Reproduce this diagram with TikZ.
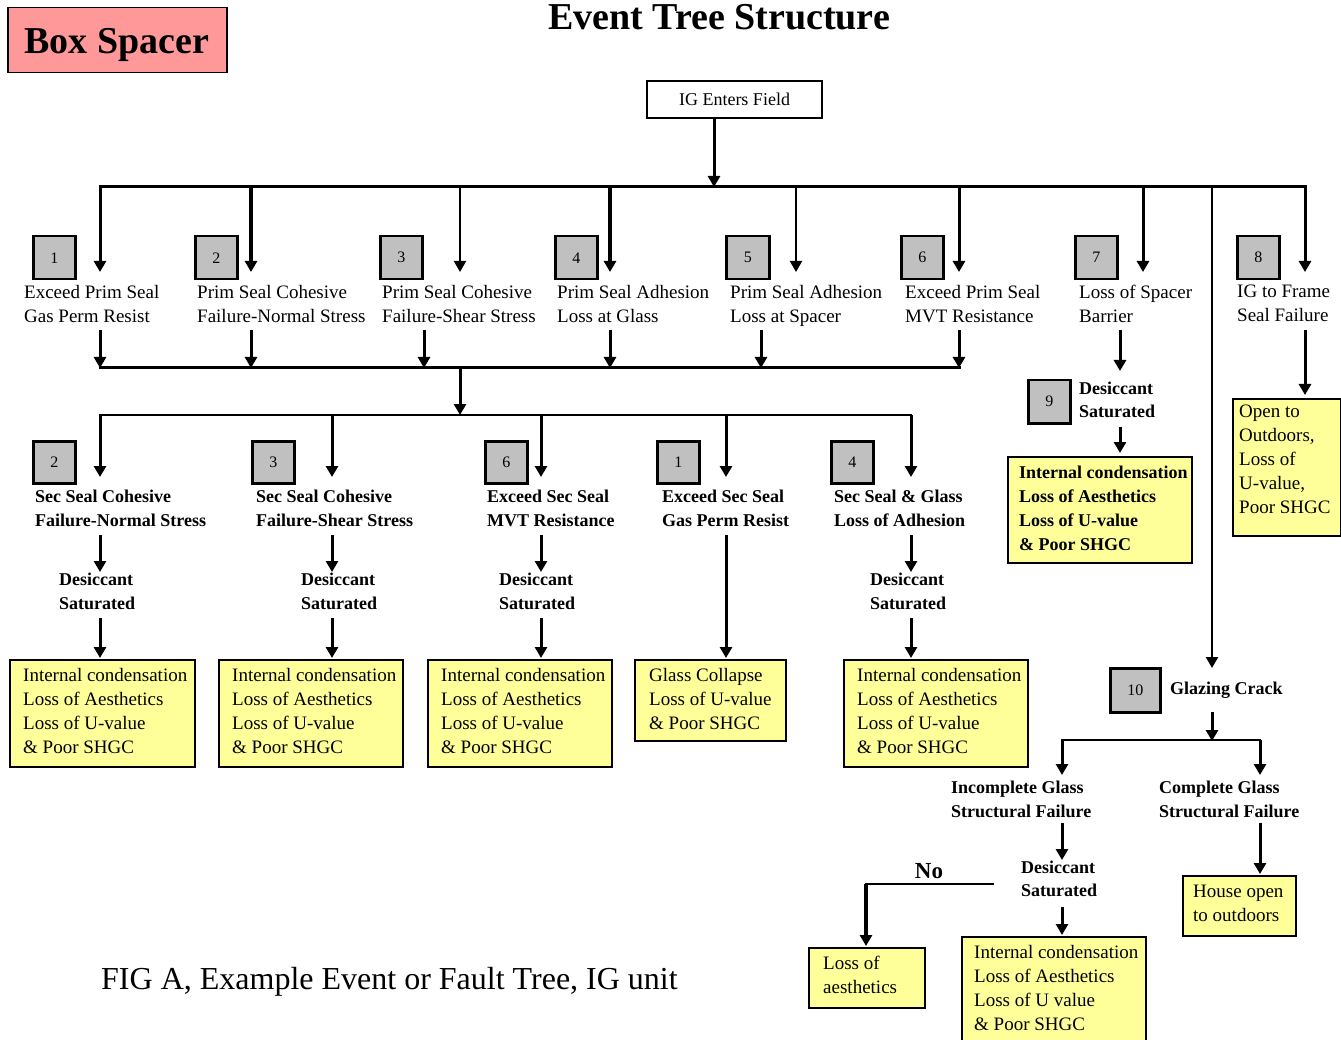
\documentclass[tikz,border=0pt]{standalone}
\usepackage{fontspec}
\setmainfont{Liberation Serif}
\usetikzlibrary{arrows.meta,calc}
\definecolor{padfill}{HTML}{FF9999}
\definecolor{numgray}{HTML}{C0C0C0}
\definecolor{outcome}{HTML}{FFFF99}

\tikzset{
  wire/.style={line width=3pt,line cap=rect},
  wirethin/.style={line width=2pt,line cap=rect},
  flow/.style={line width=3pt,-{Triangle[width=12pt,length=11pt]}},
  flowthin/.style={line width=2pt,-{Triangle[width=12pt,length=11pt]}},
  numbox/.style={draw,line width=2.5pt,fill=numgray,inner sep=0,anchor=north west,
    minimum width=42pt,minimum height=43pt,font=\fontsize{16}{16}\selectfont},
  outbox/.style={draw,line width=2pt,fill=outcome,inner sep=0,anchor=north west},
  lbl/.style={inner sep=0,anchor=north west,align=left,font=\fontsize{19}{24}\selectfont},
  lblb/.style={inner sep=0,anchor=north west,align=left,font=\fontsize{18}{24}\selectfont\bfseries},
  lblbt/.style={inner sep=0,anchor=north west,align=left,font=\fontsize{18}{23}\selectfont\bfseries},
}

\begin{document}
\begin{tikzpicture}[x=1pt,y=-1pt]
\fill[white] (0,0) rectangle (1341,1040);
\useasboundingbox (0,0) rectangle (1341,1040);

% ---------- heading ----------
\node[draw,line width=1.5pt,fill=padfill,minimum width=219pt,minimum height=65pt,anchor=north west] (pad) at (7,7) {};
\node[anchor=base,font=\fontsize{38}{38}\selectfont\bfseries,inner sep=0] (padtxt) at (117,54) {Box Spacer};
\node[anchor=base,font=\fontsize{38}{38}\selectfont\bfseries,inner sep=0] (title) at (719,30) {Event Tree Structure};

% ---------- root ----------
\node[draw,line width=2pt,minimum width=175pt,minimum height=37pt,anchor=north west,
      font=\fontsize{18}{18}\selectfont] (ig) at (646,80) {IG Enters Field};
\coordinate (igout) at (714,117);

% ---------- first tier ----------
\node[numbox] (n1) at (32,235) {1};
\node[numbox] (n2) at (194,235) {2};
\node[numbox] (n3) at (379,235) {3};
\node[numbox] (n4) at (554,235) {4};
\node[numbox,minimum width=43pt] (n5) at (725,235) {5};
\node[numbox] (n6) at (900,235) {6};
\node[numbox] (n7) at (1074,235) {7};
\node[numbox] (n8) at (1236,235) {8};

\node[lbl] (l1) at (24,285)   {Exceed Prim Seal\\Gas Perm Resist};
\node[lbl] (l2) at (197,285)  {Prim Seal Cohesive\\Failure-Normal Stress};
\node[lbl] (l3) at (382,285)  {Prim Seal Cohesive\\Failure-Shear Stress};
\node[lbl] (l4) at (557,285)  {Prim Seal Adhesion\\Loss at Glass};
\node[lbl] (l5) at (730,285)  {Prim Seal Adhesion\\Loss at Spacer};
\node[lbl] (l6) at (905,285)  {Exceed Prim Seal\\MVT Resistance};
\node[lbl] (l7) at (1079,285) {Loss of Spacer\\Barrier};
\node[lbl] (l8) at (1237,285) {IG to Frame\\Seal Failure};

% bus under the root
\coordinate (b1) at (100,187);
\coordinate (b2) at (251,187);
\coordinate (b3) at (460,187);
\coordinate (b4) at (610,187);
\coordinate (b5) at (796,187);
\coordinate (b6) at (959,187);
\coordinate (b7) at (1143,187);
\coordinate (b8) at (1305,187);
\coordinate (bg) at (1212,187);
\draw[wire] (b1) -- (b8);
\draw[flow] (igout) -- (igout |- b1);
\draw[flow] (b1) -- ++(0,85);
\draw[flow,line width=3.5pt] (b2) -- ++(0,85);
\draw[flowthin] (b3) -- ++(0,85);
\draw[flow,line width=3.5pt] (b4) -- ++(0,85);
\draw[flowthin] (b5) -- ++(0,85);
\draw[flow] (b6) -- ++(0,85);
\draw[flow] (b7) -- ++(0,85);
\draw[flow] (b8) -- ++(0,85);

% collector under the first tier
\coordinate (c1) at (100,368);
\coordinate (c6) at (959,368);
\coordinate (cmid) at (460,368);
\draw[wire] (c1) -- (c6);
\draw[flow] (100,330) -- (c1);
\draw[flow] (251,330) -- (251,368);
\draw[flow] (424,330) -- (424,368);
\draw[flow] (610,330) -- (610,368);
\draw[flow] (761,330) -- (761,368);
\draw[flow] (959,330) -- (c6);

% ---------- second tier ----------
\coordinate (e1) at (100,415);
\coordinate (e2) at (332,415);
\coordinate (e3) at (541,415);
\coordinate (e4) at (726,415);
\coordinate (e5) at (911,415);
\draw[flow] (cmid) -- (cmid |- e1);
\draw[wirethin] (e1) -- (e5);
\foreach \c in {e1,e2,e3,e4,e5} \draw[flow] (\c) -- ++(0,62);

\node[numbox,minimum height=42pt] (m2) at (32,440)  {2};
\node[numbox,minimum height=42pt] (m3) at (251,440) {3};
\node[numbox,minimum height=42pt] (m6) at (484,440) {6};
\node[numbox,minimum height=42pt] (m1) at (656,440) {1};
\node[numbox,minimum height=42pt] (m4) at (830,440) {4};

\node[lblb] (s2) at (35,490)  {Sec Seal Cohesive\\Failure-Normal Stress};
\node[lblb] (s3) at (256,490) {Sec Seal Cohesive\\Failure-Shear Stress};
\node[lblb] (s6) at (487,490) {Exceed Sec Seal\\MVT Resistance};
\node[lblb] (s1) at (662,490) {Exceed Sec Seal\\Gas Perm Resist};
\node[lblb] (s4) at (834,490) {Sec Seal \& Glass\\Loss of Adhesion};

\node[lblb] (d2) at (59,573)  {Desiccant\\Saturated};
\node[lblb] (d3) at (301,573) {Desiccant\\Saturated};
\node[lblb] (d6) at (499,573) {Desiccant\\Saturated};
\node[lblb] (d4) at (870,573) {Desiccant\\Saturated};

% outcomes of the second tier
\node[outbox,minimum width=185pt,minimum height=107pt] (oA) at (9,659) {};
\node[outbox,minimum width=184pt,minimum height=107pt] (oB) at (218,659) {};
\node[outbox,minimum width=184pt,minimum height=107pt] (oC) at (427,659) {};
\node[outbox,minimum width=151pt,minimum height=81pt]  (oD) at (634,659) {};
\node[outbox,minimum width=184pt,minimum height=107pt] (oE) at (843,659) {};

\node[lbl] (tA) at (23,668)  {Internal condensation\\Loss of Aesthetics\\Loss of U-value\\\& Poor SHGC};
\node[lbl] (tB) at (232,668) {Internal condensation\\Loss of Aesthetics\\Loss of U-value\\\& Poor SHGC};
\node[lbl] (tC) at (441,668) {Internal condensation\\Loss of Aesthetics\\Loss of U-value\\\& Poor SHGC};
\node[lbl] (tD) at (649,668) {Glass Collapse\\Loss of U-value\\\& Poor SHGC};
\node[lbl] (tE) at (857,668) {Internal condensation\\Loss of Aesthetics\\Loss of U-value\\\& Poor SHGC};

\foreach \x in {100,332,541,911} {
  \draw[flow] (\x,535) -- (\x,572);
  \draw[flow] (\x,618) -- (\x,658);
}
\draw[flow] (726,535) -- (726,658);

% ---------- spacer barrier branch ----------
\draw[flow] (1120,330) -- (1120,371);
\node[numbox] (n9) at (1027,379) {9};
\node[lblbt] (d9) at (1079,382) {Desiccant\\Saturated};
\draw[flow] (1120,427) -- (1120,453);
\node[outbox,minimum width=184pt,minimum height=106pt] (oF) at (1007,456) {};
\node[lblb] (tF) at (1019,466) {Internal condensation\\Loss of Aesthetics\\Loss of U-value\\\& Poor SHGC};

% ---------- frame seal branch ----------
\draw[flow] (1305,330) -- (1305,395);
\node[outbox,minimum width=108pt,minimum height=137pt] (oG) at (1232,398) {};
\node[lbl] (tG) at (1239,405) {Open to\\Outdoors,\\Loss of\\U-value,\\Poor SHGC};

% ---------- glazing crack branch ----------
\draw[flow,line width=2.5pt] (bg) -- (1212,668);
\node[numbox,minimum width=50pt,minimum height=44pt] (n10) at (1109,667) {10};
\node[lblb] (gc) at (1170,682) {Glazing Crack};
\coordinate (k1) at (1062,740);
\coordinate (k2) at (1260,740);
\draw[flow] (1212,712) -- (1212,741);
\draw[wire,line width=2.5pt] (k1) -- (k2);
\draw[flow] (k1) -- ++(0,35);
\draw[flow] (k2) -- ++(0,35);

\node[lblb] (ic) at (951,781)  {Incomplete Glass\\Structural Failure};
\node[lblb] (cc) at (1159,781) {Complete Glass\\Structural Failure};

\draw[flow] (1062,823) -- (1062,860);
\node[lblbt] (dd) at (1021,861) {Desiccant\\Saturated};
\draw[flow] (1062,907) -- (1062,935);
\node[outbox,minimum width=184pt,minimum height=115pt] (oH) at (961,936) {};
\node[lbl] (tH) at (974,945) {Internal condensation\\Loss of Aesthetics\\Loss of U value\\\& Poor SHGC};

\coordinate (nostart) at (993,884);
\coordinate (nocorner) at (866,884);
\draw[wirethin] (nostart) -- (nocorner);
\draw[flow,line width=3.5pt] (nocorner) -- (866,946);
\node[anchor=center,inner sep=0,font=\fontsize{23}{23}\selectfont\bfseries] (no) at (929,871) {No};
\node[outbox,minimum width=116pt,minimum height=60pt] (oI) at (808,947) {};
\node[lbl] (tI) at (823,956) {Loss of\\aesthetics};

\draw[flow] (1260,823) -- (1260,874);
\node[outbox,minimum width=113pt,minimum height=60pt] (oJ) at (1182,875) {};
\node[lbl] (tJ) at (1193,885) {House open\\to outdoors};

% ---------- caption ----------
\node[anchor=base west,inner sep=0,font=\fontsize{32}{32}\selectfont] (cap) at (101,989)
  {FIG A, Example Event or Fault Tree, IG unit};
\end{tikzpicture}
\end{document}
